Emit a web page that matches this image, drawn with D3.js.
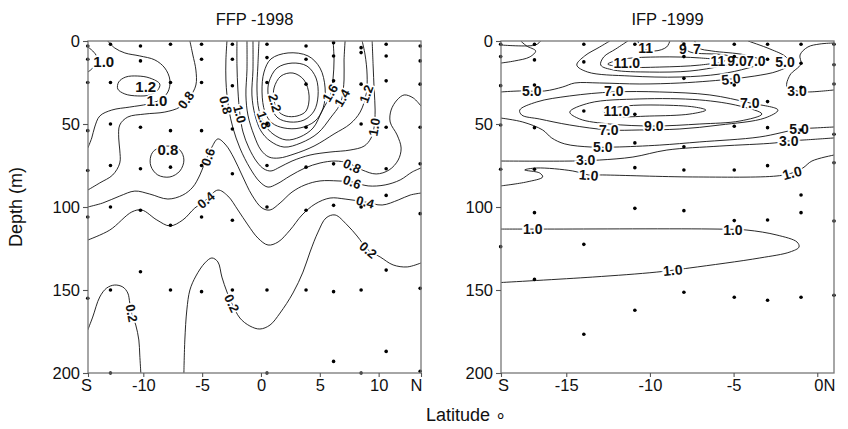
<!DOCTYPE html>
<html>
<head>
<meta charset="utf-8">
<script src="https://cdn.jsdelivr.net/npm/d3@7"></script>
<style>
  body { margin: 0; background: #fff; }
  text { font-family: "Liberation Sans", Arial, sans-serif; }
</style>
</head>
<body>
<svg id="chart" width="848" height="429"></svg>
<script>
// ---- data: [latitude, depth (m)] ----

const depthTicks = [0, 50, 100, 150, 200];

const ffpLatDomain = [-14.7, 13.6];
const ffpLatTicks = [-14.7, -10, -5, 0, 5, 10, 13.6];
const ffpLatLabels = ["S", "-10", "-5", "0", "5", "10", "N"];

const ifpLatDomain = [-18.9, 1.0];
const ifpLatTicks = [-18.9, -15, -10, -5, 0];
const ifpLatLabels = ["S", "-15", "-10", "-5", "0N"];

// sampling stations (one entry per cast)
const ffpStations = [
  {lat: -14.72, depths: [3, 11, 25, 54, 78, 106, 155]},
  {lat: -12.79, depths: [2, 25, 50, 75, 100, 150, 200]},
  {lat: -10.24, depths: [3, 12, 52, 77, 102, 139]},
  {lat: -7.69, depths: [2, 25, 54, 76, 111, 150]},
  {lat: -5.05, depths: [2, 11, 25, 54, 75, 106, 151]},
  {lat: -2.43, depths: [2, 11, 27, 53, 80, 108, 150]},
  {lat: 0.51, depths: [2, 10, 25, 50, 75, 100, 150, 200]},
  {lat: 3.83, depths: [3, 11, 26, 52, 76, 102, 150]},
  {lat: 6.17, depths: [1, 9, 24, 74, 99, 151, 193]},
  {lat: 8.51, depths: [4, 7, 26, 50, 100, 150, 200]},
  {lat: 10.64, depths: [2, 9, 24, 52, 77, 93, 138, 187]},
  {lat: 13.53, depths: [3, 12, 26, 52, 74, 104, 149, 199]}
];

const ifpStations = [
  {lat: -18.92, depths: [2, 9.4, 26.9, 50.6, 77.3, 123.9]},
  {lat: -16.9, depths: [2, 11.4, 26.5, 52.2, 77.3, 103.4, 143.6]},
  {lat: -13.95, depths: [2, 12.6, 42.2, 122.5, 176.7]},
  {lat: -10.9, depths: [2, 44.2, 61.4, 76.3, 100.8, 162.2]},
  {lat: -7.97, depths: [1.8, 9.4, 22.5, 63.7, 77.7, 102.2, 151.4]},
  {lat: -4.96, depths: [2, 9.4, 26.5, 51.4, 77.7, 108.2, 154.4]},
  {lat: -2.97, depths: [2, 11, 36.5, 52.2, 75.1, 107.8, 156.2]},
  {lat: -0.97, depths: [2, 13.4, 27.9, 53.6, 92.8, 103.4, 154.4]},
  {lat: 1.0, depths: [2, 14.3, 25.9, 56.2, 73.3, 108.4, 153.2]}
];

// contour lines, FFP 1998
const ffpContours = [
  {v: 1.0, pts: [[-14.72,3.6],[-14.3,6],[-13.95,9.6],[-14.04,13.9],[-14.38,16.9],[-14.72,18.7]]},
  {v: 1.2, closed: true, pts: [[-9.45,22.3],[-10.47,21.1],[-11.49,21.7],[-12.09,24.7],[-12.17,28.9],[-11.57,31.9],[-10.47,33.1],[-9.45,32.5],[-8.77,29.5],[-8.6,25.9]]},
  {v: 1.0, pts: [[-13.02,0],[-12.43,4.2],[-11.57,7.2],[-10.3,9],[-9.02,11.4],[-8.17,16.3],[-7.74,23.5],[-7.91,30.7],[-8.6,35.5],[-9.62,38],[-11.15,39.8],[-12.68,41.6],[-13.7,45.2],[-14.13,51.8],[-14.38,58.4],[-14.72,64.5]]},
  {v: 0.8, pts: [[-6.04,0],[-5.79,8.4],[-5.53,17.5],[-5.53,26.5],[-6.04,33.7],[-6.89,39.8],[-8.17,42.8],[-9.87,44],[-11.32,45.8],[-12,50.6],[-12.09,58.4],[-12,65.7],[-12,73.5],[-12.6,80.7],[-13.7,85.5],[-14.72,89.8]]},
  {v: 0.8, closed: true, pts: [[-9.02,65.7],[-7.91,63.3],[-6.89,65.7],[-6.55,71.7],[-6.89,78.3],[-7.74,81.9],[-8.77,80.7],[-9.36,75.3],[-9.36,69.3]]},
  {v: 0.6, pts: [[-14.72,100],[-13.45,97.6],[-12,93.4],[-10.72,90.4],[-9.45,92.2],[-7.91,95.2],[-6.64,92.8],[-5.79,88],[-5.19,80.7],[-4.85,74.7],[-4.17,63.9],[-3.66,59],[-2.98,62.7],[-2.3,70.5],[-1.62,80.7],[-0.77,92.8],[0.09,100.6],[0.77,101.8],[1.62,97.6],[2.64,91],[3.74,86.7],[5.02,84.3],[6.55,84.3],[7.74,84.9],[9.11,87.3],[10.55,86.7],[11.83,83.7],[12.85,78.9],[13.6,76.5]]},
  {v: 0.4, pts: [[-14.72,119.9],[-12.85,113.9],[-10.98,103],[-10.13,101.8],[-8.85,107.8],[-7.74,111.4],[-6.64,107.8],[-5.62,100.6],[-4.68,95.8],[-3.66,89.8],[-2.81,93.4],[-1.96,101.8],[-1.11,110.8],[-0.26,118.7],[0.6,122.9],[1.45,121.1],[2.47,113.9],[3.49,104.8],[4.6,98.2],[5.87,94.6],[7.15,95.2],[8.85,97],[10.3,98.8],[11.66,95.8],[12.68,92.8],[13.6,91.6]]},
  {v: 0.2, pts: [[-6.55,200],[-6.47,180.1],[-6.3,162],[-6.04,150],[-5.53,141.6],[-4.77,133.7],[-4.17,130.7],[-3.66,133.1],[-3.32,142.2],[-2.89,151.2],[-2.47,158],[-1.79,166.9],[-0.94,171.7],[-0.09,173.5],[0.77,171.1],[1.62,163.9],[2.72,151.8],[3.57,139.2],[4.17,127.1],[4.85,115.1],[5.53,106.6],[6.3,104.8],[7.32,110.8],[8.17,117.5],[9.11,125.9],[10.13,130.1],[11.23,134.9],[12.43,136.1],[13.6,133.7]]},
  {v: 0.2, pts: [[-14.72,174.1],[-14.3,166.3],[-13.7,154.2],[-13.11,148.8],[-12.43,147],[-11.74,148.2],[-11.32,151.8],[-11.15,157.8],[-10.98,164],[-10.64,171.1],[-10.38,180.1],[-10.3,189.2],[-10.21,200]]},
  {v: 0.8, pts: [[-2.89,0],[-2.98,11.4],[-2.98,23.5],[-2.89,32.5],[-2.72,41.6],[-2.38,52.4],[-1.79,64.5],[-0.94,76.5],[-0.09,84.9],[0.6,88],[1.36,86.1],[2.47,81.3],[3.74,76.5],[5.02,73.5],[6.3,72.3],[7.4,73.5],[8.6,77.7],[9.79,80.1],[10.89,77.7],[11.66,71.7],[11.91,64.5],[11.57,56.6],[10.98,48.8],[11.06,41.6],[11.57,35.5],[12.17,32.5],[12.94,34.3],[13.6,39.2]]},
  {v: 1.0, pts: [[-2.04,0],[-2.04,14.5],[-1.96,29.5],[-1.79,44],[-1.53,54.8],[-1.02,64.5],[-0.34,72.9],[0.26,77.1],[0.85,78.3],[1.62,75.9],[2.64,72.3],[4.17,68.7],[5.87,66.9],[7.57,65.7],[8.77,63.3],[9.36,58.4],[9.62,51.8],[9.7,41.6],[9.62,29.5],[9.53,14.5],[9.45,0]]},
  {v: 1.2, pts: [[-1.19,0],[-1.19,17.5],[-1.28,32.5],[-1.11,44.6],[-0.6,56.6],[0,65.7],[0.68,69.9],[1.53,70.5],[2.81,68.1],[4.51,63.3],[6.21,56],[7.57,50],[8.43,42.8],[8.94,31.9],[9.02,20.5],[8.85,8.4],[8.6,0]]},
  {v: 1.4, pts: [[-0.68,0],[-0.68,17.5],[-0.77,32.5],[-0.51,44.6],[0,54.2],[0.77,60.2],[1.96,63.9],[3.4,61.4],[4.85,55.4],[5.96,45.8],[6.64,39.2],[6.89,34.3],[7.06,23.5],[7.06,11.4],[7.15,0]]},
  {v: 1.6, pts: [[-0.17,0],[-0.26,14.5],[-0.34,29.5],[-0.17,41.6],[0.34,50.6],[1.02,56],[2.13,59.6],[3.32,57.8],[4.43,52.4],[5.19,42.2],[5.7,35.5],[5.96,31.3],[6.13,22.3],[6.21,11.4],[6.13,0]]},
  {v: 1.8, closed: true, pts: [[0.26,18.7],[0.85,10.8],[2.3,7.2],[4,9],[5.02,16.3],[5.45,28.3],[5.28,40.4],[4.6,48.2],[3.32,52.4],[1.96,52.4],[0.94,49.4],[0.34,42.8],[0.09,30.7]]},
  {v: 2.0, closed: true, pts: [[0.68,24.7],[1.36,16.3],[2.64,13.3],[3.91,15.1],[4.68,22.3],[4.85,33.1],[4.51,42.2],[3.66,47.6],[2.47,48.8],[1.45,46.4],[0.85,39.8],[0.6,31.9]]},
  {v: 2.2, closed: true, pts: [[1.11,28.3],[1.7,21.1],[2.72,19.3],[3.66,23.5],[4.09,33.1],[3.83,42.2],[3.06,45.2],[2.13,45.2],[1.45,42.2],[1.11,35.5]]}
];

const ffpLabels = [
  {t: "1.0", lat: -13.36, d: 12.7, a: 0, big: true},
  {t: "1.2", lat: -9.79, d: 27.7, a: 0, big: true},
  {t: "1.0", lat: -8.85, d: 36.1, a: 0, big: true},
  {t: "0.8", lat: -7.91, d: 65.7, a: 0, big: true},
  {t: "0.8", lat: -6.38, d: 35.5, a: -55},
  {t: "0.6", lat: -4.51, d: 69.9, a: -70},
  {t: "0.4", lat: -4.68, d: 95.8, a: -40},
  {t: "0.2", lat: -2.47, d: 158, a: 65},
  {t: "0.2", lat: -10.98, d: 164, a: 80},
  {t: "0.8", lat: -2.98, d: 38.6, a: 75},
  {t: "1.0", lat: -1.79, d: 44.0, a: 75},
  {t: "2.2", lat: 1.19, d: 37.3, a: 75},
  {t: "1.8", lat: 0.26, d: 47.6, a: 70},
  {t: "1.6", lat: 5.87, d: 31.3, a: -60},
  {t: "1.4", lat: 6.89, d: 34.3, a: -60},
  {t: "1.2", lat: 8.94, d: 31.9, a: -70},
  {t: "1.0", lat: 9.62, d: 51.8, a: -80},
  {t: "0.8", lat: 7.74, d: 75.3, a: 25},
  {t: "0.6", lat: 7.74, d: 84.9, a: 20},
  {t: "0.4", lat: 8.85, d: 97, a: 15},
  {t: "0.2", lat: 9.11, d: 125.9, a: 40}
];

// contour lines, IFP 1999
const ifpContours = [
  {v: 5.0, pts: [[-18.92,2.4],[-16.83,2.4],[-16.53,0]]},
  {v: 5.0, pts: [[-18.92,13.3],[-18.08,12.0],[-17.18,9.6],[-16.83,6.0],[-17.37,3.0],[-17.72,0]]},
  {v: 5.0, pts: [[-18.92,30.7],[-17.78,30.1],[-16.29,30.1],[-15.21,27.7],[-14.49,25.3],[-13.0,25.3],[-10.6,25.9],[-8.21,25.3],[-6.42,24.1],[-5.16,22.9],[-3.73,21.1],[-2.35,18.1],[-1.63,13.9],[-1.87,9.6],[-2.83,4.8],[-4.14,0]]},
  {v: 7.0, pts: [[-12.4,0],[-13.0,3.6],[-13.9,9.0],[-14.37,14.5],[-13.72,18.7],[-11.2,21.1],[-8.21,21.7],[-5.82,19.9],[-4.14,16.3],[-3.13,12.7],[-4.32,8.4],[-6.3,6.0],[-7.08,4.2],[-7.32,0]]},
  {v: 9.0, pts: [[-11.32,0],[-12.04,4.8],[-12.76,9.6],[-12.94,14.5],[-12.16,17.5],[-10.01,18.7],[-7.61,18.1],[-5.7,15.1],[-4.32,12.0],[-5.52,8.4],[-7.61,6.6],[-7.97,3.6],[-8.09,0]]},
  {v: 11.0, pts: [[-10.72,0],[-10.54,3.6],[-9.71,6.0],[-9.0,3.6],[-8.81,0]]},
  {v: 11.0, closed: true, pts: [[-12.52,13.9],[-11.5,10.8],[-9.41,9.6],[-7.02,10.2],[-5.52,12.0],[-7.02,14.5],[-9.41,15.7],[-11.5,15.7]]},
  {v: 7.0, closed: true, pts: [[-17.78,41.6],[-16.76,36.7],[-14.79,33.1],[-12.16,30.7],[-9.41,30.7],[-6.42,32.5],[-4.03,37.3],[-2.35,41.6],[-3.13,46.4],[-5.82,50.6],[-8.21,53.0],[-10.6,53.6],[-12.46,53.6],[-14.79,50.6],[-16.59,47.0],[-17.66,44.6]]},
  {v: 9.0, closed: true, pts: [[-14.79,42.8],[-13.6,37.3],[-10.6,34.9],[-7.02,35.5],[-4.62,39.2],[-3.31,44.0],[-4.62,48.2],[-7.02,50.0],[-9.77,51.2],[-12.4,50.0],[-14.19,47.0]]},
  {v: 11.0, closed: true, pts: [[-12.79,42.2],[-11.47,39.2],[-9.41,38.6],[-7.32,39.8],[-6.66,41.6],[-7.61,44.0],[-10.01,45.2],[-12.1,45.2]]},
  {v: 5.0, pts: [[-18.92,46.4],[-17.6,48.8],[-16.41,53.6],[-15.87,58.4],[-15.09,62.0],[-13.48,63.9],[-12.1,63.9],[-9.41,62.7],[-7.02,60.8],[-3.43,57.8],[-1.09,53.0],[-0.14,52.4],[1.0,51.8]]},
  {v: 3.0, pts: [[-18.92,72.3],[-14.61,72.3],[-13.0,71.7],[-11.02,69.9],[-8.99,65.7],[-5.82,63.3],[-2.53,61.4],[-1.7,60.2],[-0.74,59.6],[1.0,58.4]]},
  {v: 3.0, pts: [[1.0,29.5],[-0.56,30.7],[-1.21,30.1],[-1.81,27.7],[-1.63,20.5],[-0.98,13.9],[-1.03,8.4],[-0.56,3.6],[0.16,1.8],[1.0,1.2]]},
  {v: 1.0, pts: [[-18.92,87.3],[-17.36,84.9],[-16.41,81.9],[-16.59,79.5],[-17.48,77.7],[-16.76,76.5],[-14.61,78.3],[-13.66,80.7],[-12.82,80.7],[-7.44,81.9],[-2.41,81.3],[-1.51,79.5],[-0.86,76.5],[-0.32,72.3],[1.0,68.7]]},
  {v: 1.0, pts: [[-18.92,113.3],[-17.9,113.3],[-16.11,113.3],[-5.99,113.3],[-4.2,113.9],[-2.41,116.9],[-1.21,121.1],[-1.09,124.1],[-1.63,127.1],[-3.43,130.7],[-7.61,136.7],[-9.59,139.2],[-13.42,142.2],[-18.92,145.5]]}
];

const ifpLabels = [
  {t: "5.0", lat: -17.06, d: 30.1, a: 0},
  {t: "5.0", lat: -1.93, d: 12.7, a: 0},
  {t: "5.0", lat: -5.16, d: 22.9, a: -5},
  {t: "7", lat: -7.2, d: 4.8, a: 0},
  {t: "7.0", lat: -3.67, d: 12.0, a: 0},
  {t: "9", lat: -8.03, d: 4.8, a: 0},
  {t: "9.0", lat: -4.8, d: 12.0, a: 0},
  {t: "11", lat: -10.25, d: 4.2, a: 0},
  {t: "11.0", lat: -11.38, d: 13.3, a: 0},
  {t: "11", lat: -5.94, d: 12.0, a: 0},
  {t: "7.0", lat: -12.16, d: 30.1, a: 0},
  {t: "7.0", lat: -4.03, d: 37.3, a: 0},
  {t: "7.0", lat: -12.46, d: 53.6, a: 0},
  {t: "9.0", lat: -9.77, d: 51.2, a: 0},
  {t: "11.0", lat: -11.98, d: 42.2, a: 0},
  {t: "5.0", lat: -12.82, d: 63.9, a: 0},
  {t: "5.0", lat: -1.09, d: 53.0, a: 0},
  {t: "3.0", lat: -13.84, d: 71.7, a: 0},
  {t: "3.0", lat: -1.7, d: 60.2, a: 0},
  {t: "3.0", lat: -1.21, d: 30.1, a: 0},
  {t: "1.0", lat: -13.66, d: 80.7, a: 5},
  {t: "1.0", lat: -1.51, d: 79.5, a: -15},
  {t: "1.0", lat: -17.0, d: 113.3, a: 0},
  {t: "1.0", lat: -5.04, d: 113.9, a: 0},
  {t: "1.0", lat: -8.63, d: 138.0, a: -5}
];

// ---- layout ----
const W = 848, H = 429;
const plotTop = 41, plotBottom = 373;
const fontSize = "16.5px";
const svg = d3.select("#chart");

const drawPanel = (cfg) => {
  const x = d3.scaleLinear().domain(cfg.latDomain).range([cfg.left, cfg.right]);
  const y = d3.scaleLinear().domain([0, 200]).range([plotTop, plotBottom]);
  const g = svg.append("g").attr("class", cfg.id);

  g.append("clipPath").attr("id", cfg.id + "-clip")
    .append("rect")
      .attr("x", cfg.left).attr("y", plotTop)
      .attr("width", cfg.right - cfg.left).attr("height", plotBottom - plotTop);

  const plot = g.append("g").attr("clip-path", `url(#${cfg.id}-clip)`);

  const lineOpen = d3.line().x(d => x(d[0])).y(d => y(d[1])).curve(d3.curveCatmullRom.alpha(0.5));
  const lineClosed = d3.line().x(d => x(d[0])).y(d => y(d[1])).curve(d3.curveCatmullRomClosed.alpha(0.5));

  plot.selectAll("path.contour")
    .data(cfg.contours)
    .enter()
    .append("path")
      .attr("class", "contour")
      .attr("d", d => d.closed ? lineClosed(d.pts) : lineOpen(d.pts))
      .style("fill", "none")
      .style("stroke", "#111")
      .style("stroke-width", 0.9);

  // station dots
  const dots = cfg.stations.flatMap(s => s.depths.map(dep => [s.lat, dep]));
  g.selectAll("circle.stn")
    .data(dots)
    .enter()
    .append("circle")
      .attr("class", "stn")
      .attr("cx", d => x(d[0]))
      .attr("cy", d => y(d[1]))
      .attr("r", 1.8)
      .style("fill", "#000");

  // contour labels, white halo cuts the line like the original
  plot.selectAll("text.clab")
    .data(cfg.labels)
    .enter()
    .append("text")
      .attr("class", "clab")
      .attr("transform", d => `translate(${x(d.lat)},${y(d.d)}) rotate(${d.a})`)
      .attr("text-anchor", "middle")
      .attr("dy", "0.36em")
      .style("font-size", d => d.big ? "15px" : cfg.labelSize)
      .style("font-weight", "700")
      .style("fill", "#111")
      .style("stroke", "#fff")
      .style("stroke-width", 3.5)
      .style("paint-order", "stroke")
      .text(d => d.t);

  // frame
  g.append("rect")
    .attr("x", cfg.left).attr("y", plotTop)
    .attr("width", cfg.right - cfg.left).attr("height", plotBottom - plotTop)
    .style("fill", "none")
    .style("stroke", "#777")
    .style("stroke-width", 1.3);

  const yAxis = g.append("g")
    .attr("transform", `translate(${cfg.left},0)`)
    .call(d3.axisLeft(y).tickValues(depthTicks).tickSize(5).tickPadding(3));

  const xAxis = g.append("g")
    .attr("transform", `translate(0,${plotBottom})`)
    .call(d3.axisBottom(x).tickValues(cfg.latTicks).tickSize(4).tickPadding(2)
      .tickFormat((d, i) => cfg.latLabels[i]));

  [yAxis, xAxis].forEach(ax => {
    ax.select(".domain").remove();
    ax.selectAll(".tick line").style("stroke", "#555").style("stroke-width", 1.1);
    ax.selectAll(".tick text")
      .style("font-size", fontSize)
      .style("fill", "#111")
      .style("font-family", "'Liberation Sans', Arial, sans-serif");
  });
  xAxis.selectAll(".tick text").attr("dx", (d, i) => cfg.labelShift[i]);

  g.append("text")
    .attr("x", (cfg.left + cfg.right) / 2)
    .attr("y", 25)
    .attr("text-anchor", "middle")
    .style("font-size", fontSize)
    .style("fill", "#111")
    .text(cfg.title);
};

drawPanel({
  id: "ffp", title: "FFP -1998", left: 88, right: 421,
  latDomain: ffpLatDomain, latTicks: ffpLatTicks, latLabels: ffpLatLabels,
  labelShift: [-2, 0, 0, 0, 0, 0, -5],
  stations: ffpStations, contours: ffpContours, labels: ffpLabels, labelSize: "13px"
});

drawPanel({
  id: "ifp", title: "IFP -1999", left: 501, right: 834,
  latDomain: ifpLatDomain, latTicks: ifpLatTicks, latLabels: ifpLatLabels,
  labelShift: [2, 0, 0, 0, 7],
  stations: ifpStations, contours: ifpContours, labels: ifpLabels, labelSize: "14px"
});

// shared axis titles
svg.append("text")
  .attr("transform", "translate(22,207) rotate(-90)")
  .attr("text-anchor", "middle")
  .style("font-size", "18px")
  .style("fill", "#111")
  .text("Depth (m)");

svg.append("text")
  .attr("x", 466)
  .attr("y", 421)
  .attr("text-anchor", "middle")
  .style("font-size", "18px")
  .style("fill", "#111")
  .text("Latitude \u2218");
</script>
</body>
</html>
